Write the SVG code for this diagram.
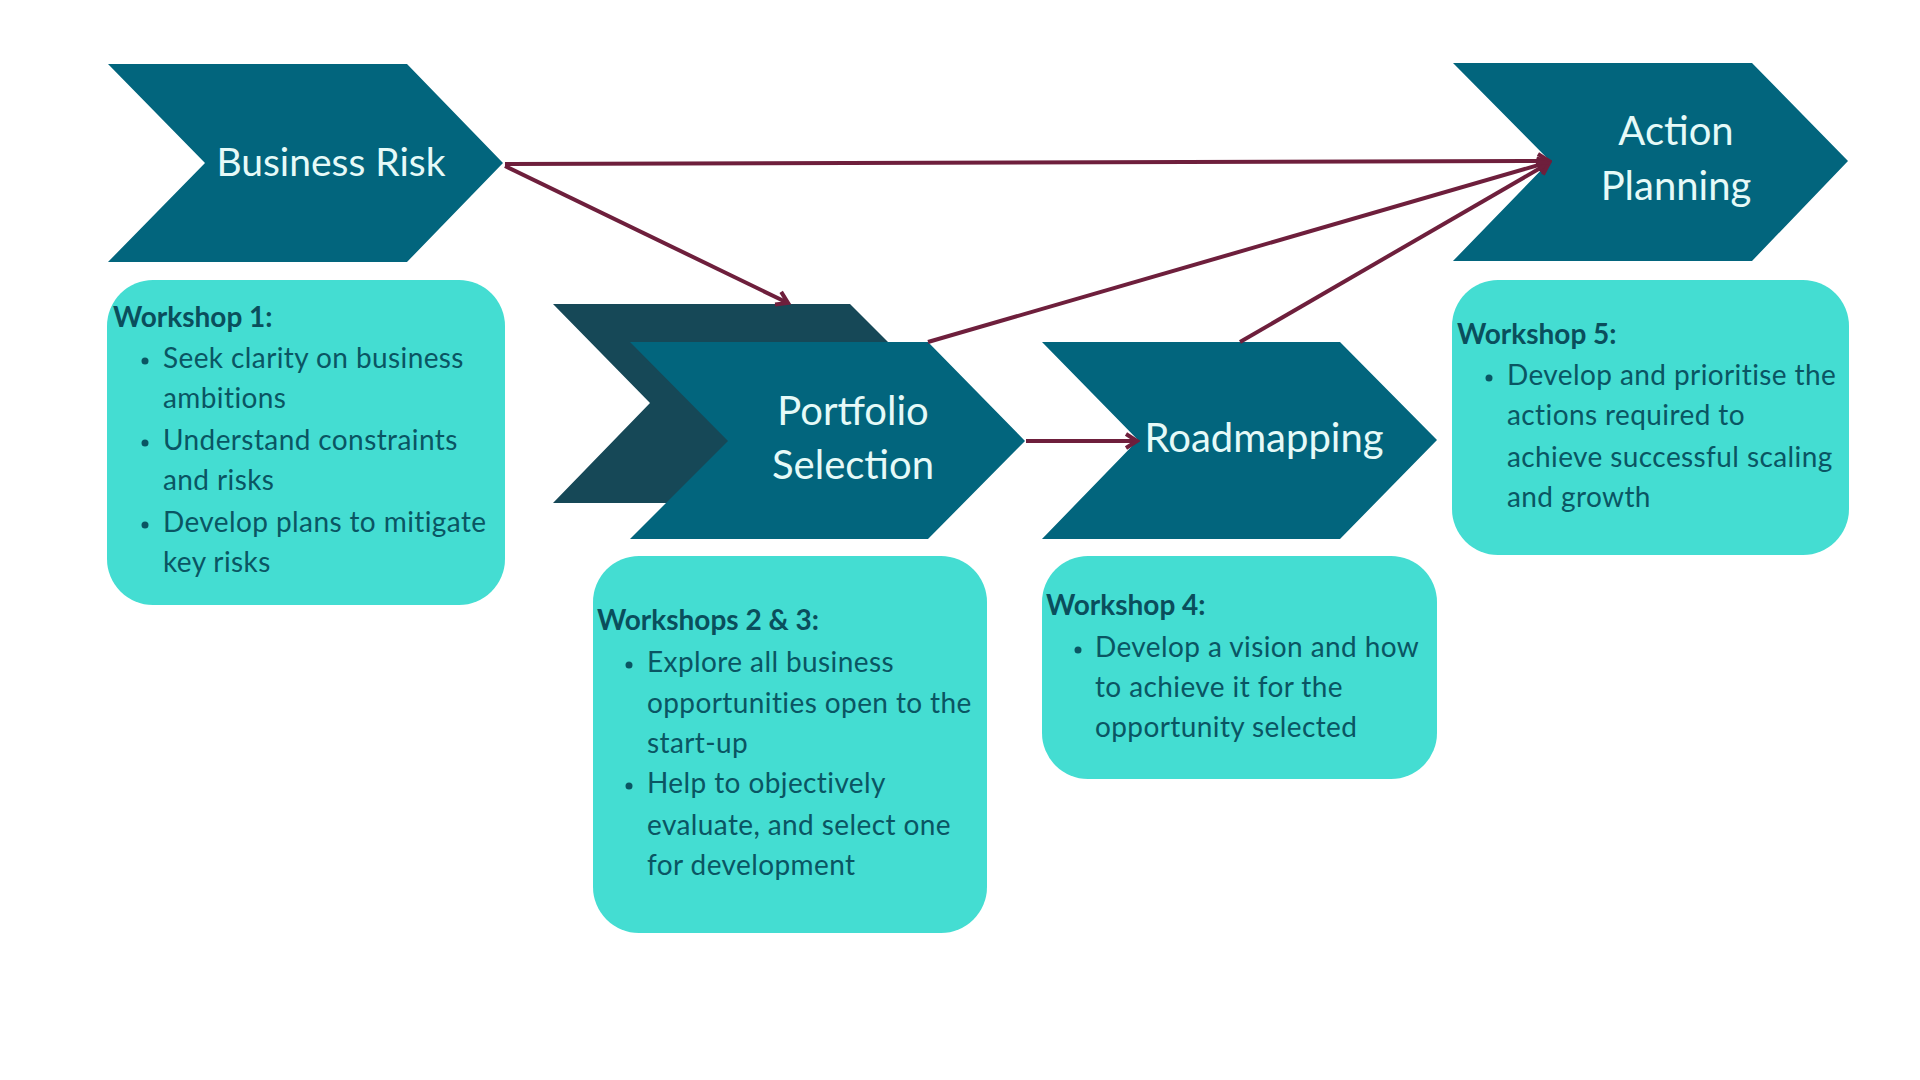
<svg xmlns="http://www.w3.org/2000/svg" width="1920" height="1080" viewBox="0 0 1920 1080">
<style>
.chev{fill:#02657D}
.chevdark{fill:#164857}
.card{fill:#44DDD2}
.ttl{font-family:Lato,"Open Sans",sans-serif;font-size:40px;fill:#E6FAF8;text-anchor:middle}
.hd{font-family:Lato,"Open Sans",sans-serif;font-size:28px;font-weight:700;fill:#0A4E5C}
.bt{font-family:Lato,"Open Sans",sans-serif;font-size:28px;letter-spacing:0.4px;fill:#0A5563}
.dot{fill:#0A5563}
.con{stroke:#6E1F3C;stroke-width:4;fill:none}
</style>
<defs>
<marker id="ah" markerUnits="userSpaceOnUse" markerWidth="20" markerHeight="20" viewBox="0 0 20 20" refX="17" refY="10" orient="auto">
<path d="M6,3 L17,10 L6,17" fill="none" stroke="#6E1F3C" stroke-width="4" stroke-linejoin="miter"/>
</marker>
</defs>
<rect width="1920" height="1080" fill="#FFFFFF"/>

<g id="business-risk">
<polygon class="chev" points="108,64 407,64 503,163 407,262 108,262 205,163"/>
<text class="ttl" x="331" y="176" style="font-size:39px">Business Risk</text>
</g>

<g id="portfolio-selection">
<polygon class="chevdark" points="553,304 850,304 949,403 850,503 553,503 650,403"/>
<polygon class="chev" points="630,342 928,342 1025,441 928,539 630,539 728,441"/>
<text class="ttl" x="853" y="425">Portfolio</text>
<text class="ttl" x="853" y="479">Selection</text>
</g>

<g id="roadmapping">
<polygon class="chev" points="1042,342 1340,342 1437,440 1340,539 1042,539 1138,440"/>
<text class="ttl" x="1264" y="452">Roadmapping</text>
</g>

<g id="action-planning">
<polygon class="chev" points="1453,63 1752,63 1848,161 1752,261 1453,261 1550,161"/>
<text class="ttl" x="1676" y="145">Action</text>
<text class="ttl" x="1676" y="200">Planning</text>
</g>

<g id="connectors">
<line class="con" x1="505" y1="164" x2="1549" y2="161" marker-end="url(#ah)"/>
<line class="con" x1="505" y1="166" x2="788" y2="303" marker-end="url(#ah)"/>
<line class="con" x1="928" y1="342" x2="1549" y2="162" marker-end="url(#ah)"/>
<line class="con" x1="1240" y1="342" x2="1549" y2="163" marker-end="url(#ah)"/>
<line class="con" x1="1026" y1="441" x2="1137" y2="441" marker-end="url(#ah)"/>
</g>

<g id="workshop-1">
<rect class="card" x="107" y="280" width="398" height="325" rx="46"/>
<text class="hd" x="113" y="327">Workshop 1:</text>
<circle class="dot" cx="145" cy="361" r="3.5"/>
<circle class="dot" cx="145" cy="443" r="3.5"/>
<circle class="dot" cx="145" cy="525" r="3.5"/>
<text class="bt" x="163" y="368">Seek clarity on business</text>
<text class="bt" x="163" y="408">ambitions</text>
<text class="bt" x="163" y="450">Understand constraints</text>
<text class="bt" x="163" y="490">and risks</text>
<text class="bt" x="163" y="532">Develop plans to mitigate</text>
<text class="bt" x="163" y="572">key risks</text>
</g>

<g id="workshops-2-3">
<rect class="card" x="593" y="556" width="394" height="377" rx="46"/>
<text class="hd" x="597" y="630">Workshops 2 &amp; 3:</text>
<circle class="dot" cx="629" cy="665" r="3.5"/>
<circle class="dot" cx="629" cy="786" r="3.5"/>
<text class="bt" x="647" y="672">Explore all business</text>
<text class="bt" x="647" y="713">opportunities open to the</text>
<text class="bt" x="647" y="753">start-up</text>
<text class="bt" x="647" y="793">Help to objectively</text>
<text class="bt" x="647" y="835">evaluate, and select one</text>
<text class="bt" x="647" y="875">for development</text>
</g>

<g id="workshop-4">
<rect class="card" x="1042" y="556" width="395" height="223" rx="46"/>
<text class="hd" x="1046" y="615">Workshop 4:</text>
<circle class="dot" cx="1078" cy="650" r="3.5"/>
<text class="bt" x="1095" y="657">Develop a vision and how</text>
<text class="bt" x="1095" y="697">to achieve it for the</text>
<text class="bt" x="1095" y="737">opportunity selected</text>
</g>

<g id="workshop-5">
<rect class="card" x="1452" y="280" width="397" height="275" rx="46"/>
<text class="hd" x="1457" y="344">Workshop 5:</text>
<circle class="dot" cx="1489" cy="378" r="3.5"/>
<text class="bt" x="1507" y="385">Develop and prioritise the</text>
<text class="bt" x="1507" y="425">actions required to</text>
<text class="bt" x="1507" y="467">achieve successful scaling</text>
<text class="bt" x="1507" y="507">and growth</text>
</g>
</svg>
